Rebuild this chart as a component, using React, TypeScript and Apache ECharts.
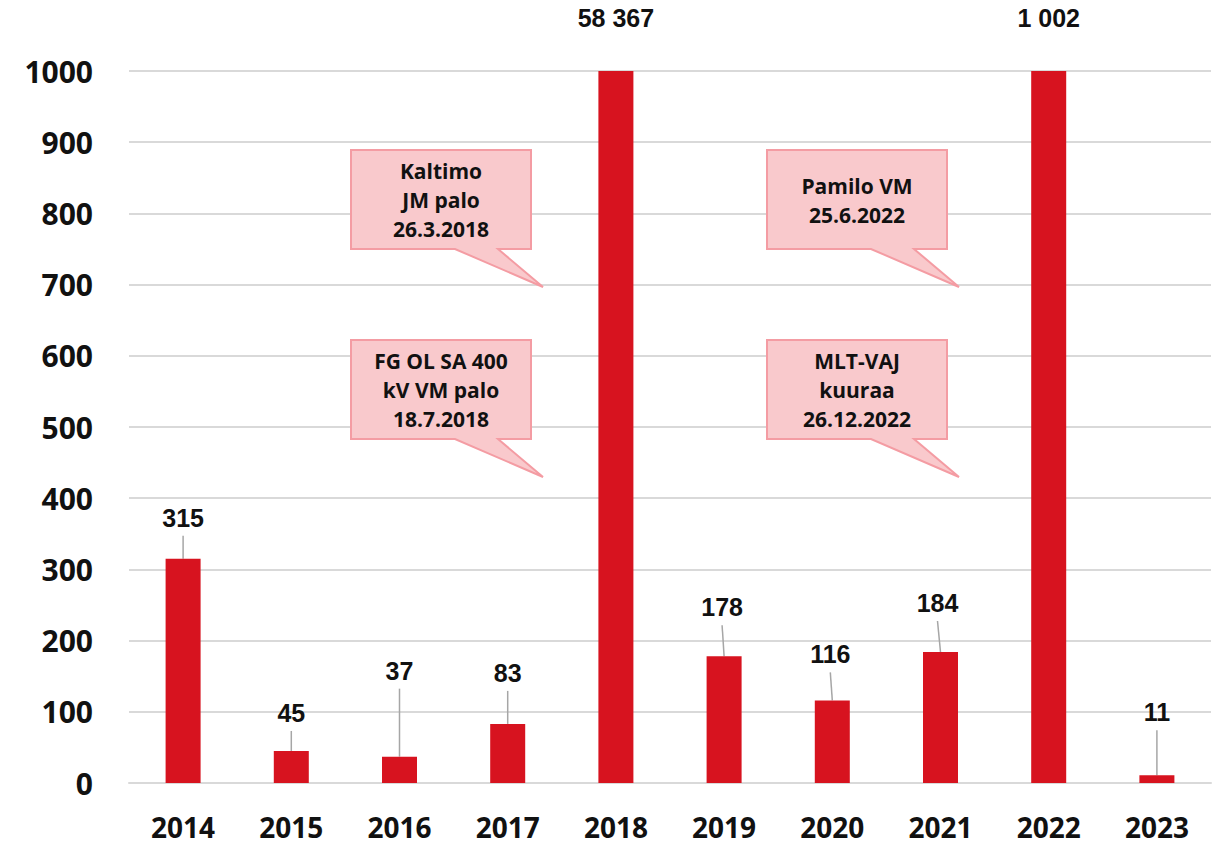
import React, { useEffect, useRef } from "react";
import * as echarts from "echarts";

const years = ["2014", "2015", "2016", "2017", "2018", "2019", "2020", "2021", "2022", "2023"];
const values = [315, 45, 37, 83, 58367, 178, 116, 184, 1002, 11];
const valueLabels = ["315", "45", "37", "83", "58 367", "178", "116", "184", "1 002", "11"];
const yTicks = { min: 0, max: 1000, interval: 100 };
const callouts = [
  { text: "Kaltimo\nJM palo\n26.3.2018" },
  { text: "FG OL SA 400\nkV VM palo\n18.7.2018" },
  { text: "Pamilo VM\n25.6.2022" },
  { text: "MLT-VAJ\nkuuraa\n26.12.2022" },
];

// styling: how far (px) each value label sits above its bar top, and small x nudges
const labelLift = [41, 38, 86, 51, 0, 49, 46, 49, 0, 63];
const labelNudge = [0, 0, 0, 0, 0, -2, -2, -3, 0, 0];

const RED = "#D7131F";
const GRID_LEFT = 129;
const GRID_TOP = 71;
const GRID_RIGHT = 9;
const GRID_BOTTOM = 63;

function calloutShape(x0: number, y0: number, w: number, h: number, b0: number, b1: number, tx: number, ty: number) {
  return [
    [x0, y0],
    [x0 + w, y0],
    [x0 + w, y0 + h],
    [x0 + b1, y0 + h],
    [tx, ty],
    [x0 + b0, y0 + h],
    [x0, y0 + h],
  ];
}

export default function App() {
  const ref = useRef<HTMLDivElement>(null);
  useEffect(() => {
    if (!ref.current) return;
    const chart = echarts.init(ref.current, undefined, { renderer: "svg" });
    chart.setOption({
      animation: false,
      backgroundColor: "#ffffff",
      grid: { left: GRID_LEFT, right: GRID_RIGHT, top: GRID_TOP, bottom: GRID_BOTTOM, containLabel: false },
      xAxis: {
        type: "category",
        data: years,
        axisTick: { show: false },
        axisLine: { show: true, lineStyle: { color: "#D9D9D9", width: 2 } },
        axisLabel: {
          color: "#111",
          fontFamily: "Open Sans",
          fontWeight: "bold",
          fontSize: 28,
          lineHeight: 26,
          margin: 31,
        },
      },
      yAxis: {
        type: "value",
        min: yTicks.min,
        max: yTicks.max,
        interval: yTicks.interval,
        axisLine: { show: false },
        axisTick: { show: false },
        splitLine: { lineStyle: { color: "#D9D9D9", width: 2 } },
        axisLabel: {
          color: "#111",
          fontFamily: "Open Sans",
          fontWeight: "bold",
          fontSize: 30,
          margin: 36,
          formatter: (v: number) => String(v),
        },
      },
      series: [
        {
          type: "bar",
          data: values,
          barWidth: 35,
          clip: true,
          itemStyle: { color: RED },
          label: { show: false },
          silent: true,
        },
      ],
    });

    const graphics: any[] = [];
    const yMax = yTicks.max;
    const labelFont = "bold 25px 'Liberation Sans', Arial, sans-serif";
    values.forEach((v, i) => {
      const top = chart.convertToPixel({ xAxisIndex: 0, yAxisIndex: 0 }, [i, Math.min(v, yMax)]) as number[];
      const bx = top[0];
      const by = top[1];
      if (v > yMax) {
        graphics.push({
          type: "text",
          x: bx,
          y: GRID_TOP - 53,
          style: {
            text: valueLabels[i],
            fill: "#111",
            font: labelFont,
            align: "center",
            verticalAlign: "middle",
          },
        });
      } else {
        const ty = by - labelLift[i];
        const tx = bx + labelNudge[i];
        graphics.push({
          type: "line",
          shape: { x1: tx, y1: ty + 18, x2: bx, y2: by },
          style: { stroke: "#A6A6A6", lineWidth: 1.5 },
        });
        graphics.push({
          type: "text",
          x: tx,
          y: ty,
          style: {
            text: valueLabels[i],
            fill: "#111",
            font: labelFont,
            align: "center",
            verticalAlign: "middle",
          },
        });
      }
    });

    const boxes = [
      { x0: 351, y0: 150, tx: 543, ty: 287 },
      { x0: 351, y0: 340, tx: 543, ty: 477 },
      { x0: 767, y0: 150, tx: 959, ty: 287 },
      { x0: 767, y0: 340, tx: 959, ty: 477 },
    ];
    boxes.forEach((b, k) => {
      graphics.push({
        type: "polygon",
        shape: { points: calloutShape(b.x0, b.y0, 180, 99, 104, 147, b.tx, b.ty) },
        style: { fill: "#F9C9CC", stroke: "#F49CA3", lineWidth: 2 },
      });
      graphics.push({
        type: "text",
        x: b.x0 + 90,
        y: b.y0 + 50,
        style: {
          text: callouts[k].text,
          fill: "#111",
          font: "bold 21px 'Open Sans', sans-serif",
          lineHeight: 29,
          align: "center",
          verticalAlign: "middle",
        },
      });
    });

    chart.setOption({ graphic: graphics });
    return () => chart.dispose();
  }, []);
  return <div ref={ref} style={{ position: "fixed", left: 0, top: 0, width: 1220, height: 846 }} />;
}
